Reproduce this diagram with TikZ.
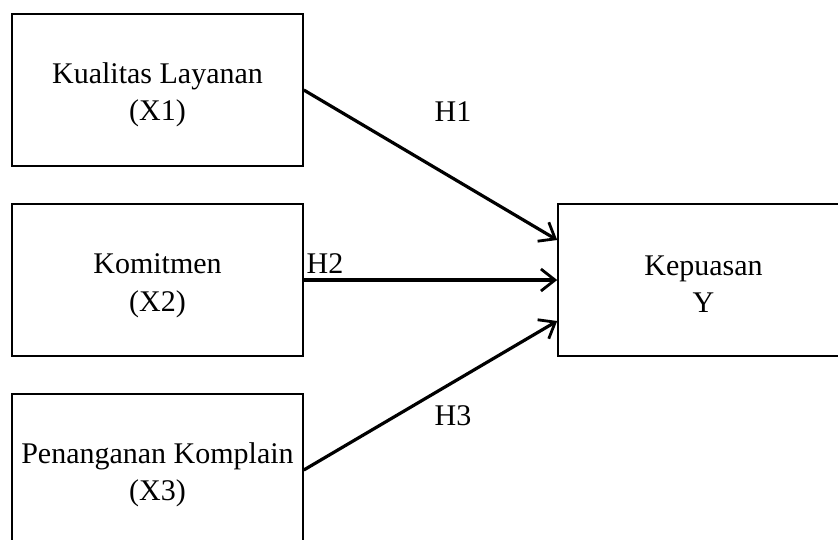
\documentclass[tikz,border=0pt]{standalone}
\usepackage{fontspec}
\setmainfont{Liberation Serif}
\usetikzlibrary{arrows.meta}
\begin{document}
\begin{tikzpicture}[x=1pt,y=-1pt,
  varbox/.style={draw=black, line width=1.6pt, minimum width=291pt, minimum height=152pt, inner sep=0pt},
  vartext/.style={align=center, inner sep=0pt, font=\fontsize{30}{37.5}\selectfont},
  hlabel/.style={font=\fontsize{30}{36}\selectfont, inner sep=0pt},
  link/.style={line width=3.2pt, -{Straight Barb[length=14pt,width=22pt,line width=2.8pt]}}]
\useasboundingbox (0,0) rectangle (838,539);
\clip (0,0) rectangle (838,539);
\node[varbox] (b1) at (157.5,90) {};
\node[varbox] (b2) at (157.5,280) {};
\node[varbox] (b3) at (157.5,470) {};
\node[varbox] (k) at (703.5,280) {};
\node[vartext] (t1) at ([yshift=-5pt]b1.center) {Kualitas Layanan\\(X1)};
\node[vartext] (t2) at ([yshift=-6pt]b2.center) {Komitmen\\(X2)};
\node[vartext] (t3) at ([yshift=-5pt]b3.center) {Penanganan Komplain\\(X3)};
\node[vartext] (tk) at ([yshift=-4pt]k.center) {Kepuasan\\Y};
\draw[link] (b1.east) -- ([yshift=40pt]k.west);
\draw[link] (b2.east) -- (k.west);
\draw[link] (b3.east) -- ([yshift=-41pt]k.west);
\node[hlabel] (h1) at (453,112) {H1};
\node[hlabel] (h2) at (325,264) {H2};
\node[hlabel] (h3) at (453,416) {H3};
\end{tikzpicture}
\end{document}
